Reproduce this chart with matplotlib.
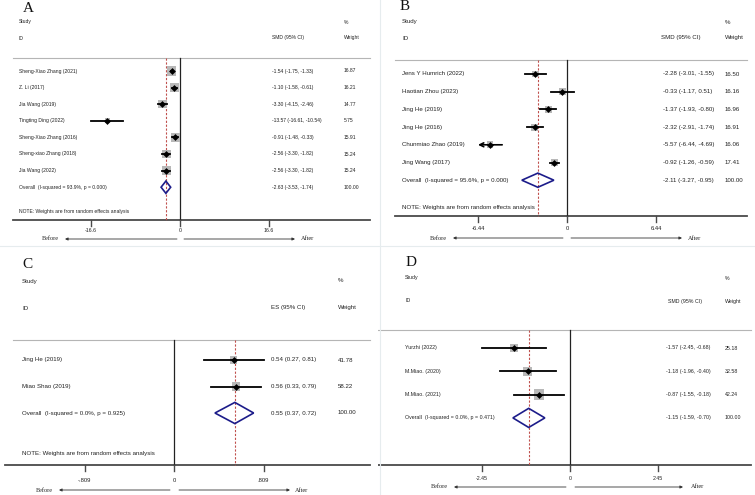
import numpy as np
import matplotlib.pyplot as plt
from matplotlib.patches import Polygon
from matplotlib.lines import Line2D

plt.rcParams['font.family'] = 'Liberation Sans'

# ---- data ----
a_studies = ['Sheng-Xiao Zhang (2021)', 'Z. Li (2017)', 'Jia Wang (2019)', 'Tingting Ding (2022)',
             'Sheng-Xiao Zhang (2016)', 'Sheng-xiao Zhang (2018)', 'Jia Wang (2022)']
a_est = [-1.54, -1.10, -3.30, -13.57, -0.91, -2.56, -2.56]
a_lo = [-1.75, -1.58, -4.15, -16.61, -1.48, -3.30, -3.30]
a_hi = [-1.33, -0.61, -2.46, -10.54, -0.33, -1.82, -1.82]
a_wt = [16.87, 16.21, 14.77, 5.75, 15.91, 15.24, 15.24]
a_overall = [-2.63, -3.53, -1.74]
a_het = 'Overall  (I-squared = 93.9%, p = 0.000)'
a_ticks = [-16.6, 0, 16.6]
a_ticklabels = ['-16.6', '0', '16.6']

b_studies = ['Jens Y Humrich (2022)', 'Haotian Zhou (2023)', 'Jing He (2019)', 'Jing He (2016)',
             'Chunmiao Zhao (2019)', 'Jing Wang (2017)']
b_est = [-2.28, -0.33, -1.37, -2.32, -5.57, -0.92]
b_lo = [-3.01, -1.17, -1.93, -2.91, -6.44, -1.26]
b_hi = [-1.55, 0.51, -0.80, -1.74, -4.69, -0.59]
b_wt = [16.50, 16.16, 16.96, 16.91, 16.06, 17.41]
b_overall = [-2.11, -3.27, -0.95]
b_het = 'Overall  (I-squared = 95.6%, p = 0.000)'
b_ticks = [-6.44, 0, 6.44]
b_ticklabels = ['-6.44', '0', '6.44']

c_studies = ['Jing He (2019)', 'Miao Shao (2019)']
c_est = [0.54, 0.56]
c_lo = [0.27, 0.33]
c_hi = [0.81, 0.79]
c_wt = [41.78, 58.22]
c_overall = [0.55, 0.37, 0.72]
c_het = 'Overall  (I-squared = 0.0%, p = 0.925)'
c_ticks = [-0.809, 0, 0.809]
c_ticklabels = ['-.809', '0', '.809']

d_studies = ['Yurzhi (2022)', 'M.Miao. (2020)', 'M.Miao. (2021)']
d_est = [-1.57, -1.18, -0.87]
d_lo = [-2.45, -1.96, -1.55]
d_hi = [-0.68, -0.40, -0.18]
d_wt = [25.18, 32.58, 42.24]
d_overall = [-1.15, -1.59, -0.70]
d_het = 'Overall  (I-squared = 0.0%, p = 0.471)'
d_ticks = [-2.45, 0, 2.45]
d_ticklabels = ['-2.45', '0', '2.45']

note = 'NOTE: Weights are from random effects analysis'

W, H = 755, 495
fig = plt.figure(figsize=(7.55, 4.95), dpi=100)
txt = '#222222'


def forest(letter, box, lay, studies, est, lo, hi, wt, overall, het, ticks, ticklabels, col, show_note=True):
    x0, y0, w, h = box
    ax = fig.add_axes([x0 / W, 1 - (y0 + h) / H, w / W, h / H])
    ax.axis('off')
    ppu = lay['tick_px'] / ticks[2]
    X = lambda px: (px - lay['zero']) / ppu
    Y = lambda py: (py - lay['row0']) / lay['step']
    ax.set_xlim(X(x0), X(x0 + w))
    ax.set_ylim(Y(y0 + h), Y(y0))
    fs = lay['fs']
    n = len(studies)
    rows = np.arange(n)

    # headers
    ax.text(X(lay['sx']), Y(lay['hy1']), 'Study', fontsize=fs, va='center', color=txt)
    ax.text(X(lay['sx']), Y(lay['hy2']), 'ID', fontsize=fs, va='center', color=txt)
    ax.text(X(lay['wx']), Y(lay['hy1']), '%', fontsize=fs, va='center', color=txt)
    ax.text(X(lay['cxh']), Y(lay['hy2']), col, fontsize=fs, va='center', color=txt)
    ax.text(X(lay['wx']), Y(lay['hy2']), 'Weight', fontsize=fs, va='center', color=txt)

    # lines
    ax.plot([X(lay['tl'][0]), X(lay['tl'][1])], [Y(lay['ty'])] * 2, color='#b5b5b5', lw=0.8)
    ax.plot([X(lay['al'][0]), X(lay['al'][1])], [Y(lay['ay'])] * 2, color='#4a4a4a', lw=1.3)
    ax.plot([0, 0], [Y(lay['ty']), Y(lay['ay'])], color='#222222', lw=0.9)
    ax.plot([overall[0]] * 2, [Y(lay['ty']), Y(lay['ay'])], color='#c0504d', lw=0.8,
            ls=(0, (2, 1.5)))
    for t, lab in zip(ticks, ticklabels):
        ax.plot([t, t], [Y(lay['ay']), Y(lay['ay'] + 6)], color='#4a4a4a', lw=1.0)
        ax.text(t, Y(lay['tly']), lab, fontsize=lay['tfs'], ha='center', va='center', color=txt)

    # studies
    side = lay['sq'] * 0.72
    ax.scatter(est, rows, s=(side ** 2) * np.array(wt), marker='s', color='#b8b8b8',
               edgecolors='none', zorder=3)
    clip = lay.get('clip')
    for i in range(n):
        if clip is not None and lo[i] <= clip:
            ax.annotate('', xy=(lo[i], i), xytext=(hi[i], i),
                        arrowprops=dict(arrowstyle='->', lw=1.2, color='k', mutation_scale=7,
                                        shrinkA=0, shrinkB=0), zorder=4)
        else:
            ax.plot([lo[i], hi[i]], [i, i], color='k', lw=1.3, zorder=4)
        ax.text(X(lay['sx']), i, studies[i], fontsize=fs, va='center', color=txt)
        ax.text(X(lay['cx']), i, f'{est[i]:.2f} ({lo[i]:.2f}, {hi[i]:.2f})', fontsize=fs,
                va='center', color=txt)
        ax.text(X(lay['wx']), i, f'{wt[i]:.2f}', fontsize=fs, va='center', color=txt)
    ax.plot(est, rows, 'D', color='k', ms=3.5, mew=0, zorder=5)

    # overall
    e, l, u = overall
    dh = lay['dh']
    ax.add_patch(Polygon([[l, n], [e, n - dh], [u, n], [e, n + dh]], closed=True, fill=False,
                         ec='#1c1c8a', lw=1.2, zorder=5))
    ax.text(X(lay['sx']), n, het, fontsize=fs, va='center', color=txt)
    ax.text(X(lay['cx']), n, f'{e:.2f} ({l:.2f}, {u:.2f})', fontsize=fs, va='center', color=txt)
    ax.text(X(lay['wx']), n, '100.00', fontsize=fs, va='center', color=txt)
    if show_note:
        ax.text(X(lay['sx']), Y(lay['ny']), note, fontsize=fs, va='center', color=txt)

    # before / after
    ay2 = Y(lay['ary'])
    for (s0, s1) in (lay['larr'], lay['rarr']):
        ax.annotate('', xy=(X(s1), ay2), xytext=(X(s0), ay2),
                    arrowprops=dict(arrowstyle='-|>', lw=0.6, color='#333333', mutation_scale=4,
                                    shrinkA=0, shrinkB=0))
    ax.text(X(lay['bx']), ay2, 'Before', fontsize=4.5, family='Liberation Serif', va='center',
            color=txt)
    ax.text(X(lay['afx']), ay2, 'After', fontsize=4.5, family='Liberation Serif', va='center',
            color=txt)
    ax.text(X(lay['lx']), Y(lay['ly']), letter, fontsize=11, family='Liberation Serif',
            ha='center', va='center', color='#111111')


lay_a = dict(zero=180, tick_px=89, row0=71, step=16.6, sx=19, cx=272, cxh=272, wx=344,
             hy1=22, hy2=38, ty=58, tl=(13, 370), ay=220, al=(13, 370), tly=230, ny=212,
             ary=239, larr=(177, 65), rarr=(184, 295), bx=42, afx=301, lx=28, ly=8,
             fs=3.6, tfs=3.8, sq=2.2, dh=0.37)
lay_b = dict(zero=567, tick_px=89, row0=74, step=17.7, sx=402, cx=663, cxh=661, wx=725,
             hy1=22, hy2=38, ty=60, tl=(395, 747), ay=216, al=(395, 747), tly=229, ny=207,
             ary=238, larr=(563, 453), rarr=(571, 682), bx=430, afx=688, lx=405, ly=7,
             fs=4.4, tfs=4.2, sq=1.7, dh=0.4, clip=-6.44)
lay_c = dict(zero=174, tick_px=89.5, row0=360, step=26.5, sx=22, cx=271, cxh=271, wx=338,
             hy1=281, hy2=308, ty=340, tl=(13, 370), ay=465, al=(5, 370), tly=480, ny=453,
             ary=490, larr=(170, 59), rarr=(179, 290), bx=36, afx=295, lx=27, ly=265,
             fs=4.4, tfs=4.2, sq=1.15, dh=0.4)
lay_d = dict(zero=570, tick_px=88, row0=348, step=23.3, sx=405, cx=666, cxh=668, wx=725,
             hy1=278, hy2=301, ty=330, tl=(378, 751), ay=465, al=(378, 751), tly=479, ny=None,
             ary=487, larr=(566, 454), rarr=(575, 683), bx=431, afx=691, lx=411, ly=263,
             fs=3.8, tfs=3.8, sq=1.6, dh=0.41)

forest('A', (0, 0, 378, 248), lay_a, a_studies, a_est, a_lo, a_hi, a_wt, a_overall, a_het,
       a_ticks, a_ticklabels, 'SMD (95% CI)')
forest('B', (378, 0, 377, 248), lay_b, b_studies, b_est, b_lo, b_hi, b_wt, b_overall, b_het,
       b_ticks, b_ticklabels, 'SMD (95% CI)')
forest('C', (0, 248, 378, 247), lay_c, c_studies, c_est, c_lo, c_hi, c_wt, c_overall, c_het,
       c_ticks, c_ticklabels, 'ES (95% CI)')
forest('D', (378, 248, 377, 247), lay_d, d_studies, d_est, d_lo, d_hi, d_wt, d_overall, d_het,
       d_ticks, d_ticklabels, 'SMD (95% CI)', show_note=False)

# faint panel separators
fig.add_artist(Line2D([380 / W, 380 / W], [0, 1], color='#e6ecee', lw=0.8))
fig.add_artist(Line2D([0, 1], [1 - 246 / H, 1 - 246 / H], color='#e6ecee', lw=0.8))

fig.savefig('out.png', dpi=100)
